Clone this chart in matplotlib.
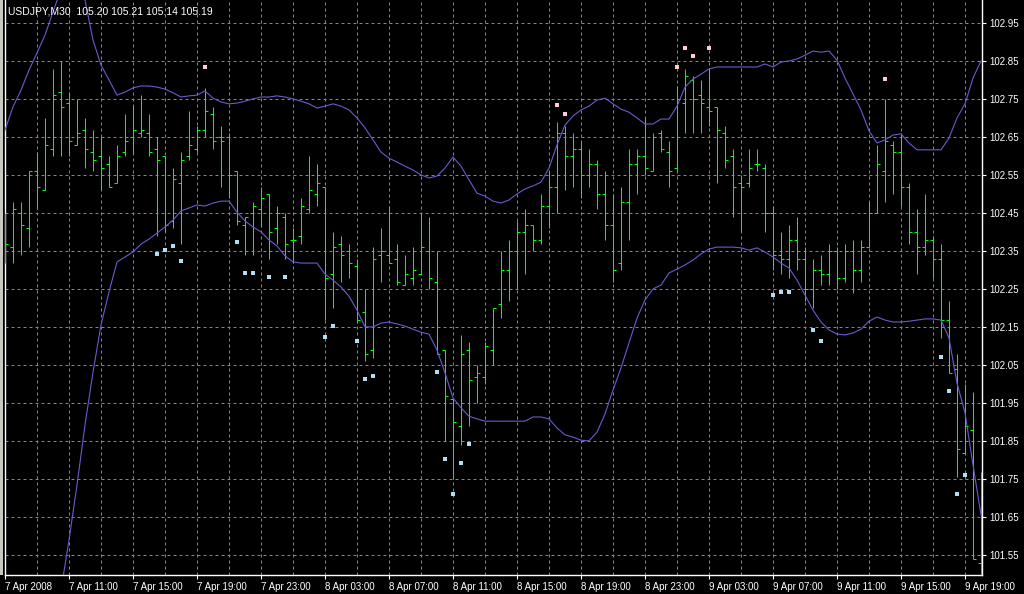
import matplotlib
matplotlib.use('Agg')
import matplotlib.pyplot as plt
from matplotlib.patches import Rectangle

# USDJPY M30, 123 bars (7 Apr 07:00 .. 9 Apr 19:00)
opens = [102.40, 102.36, 102.45, 102.41, 102.56, 102.51, 102.62, 102.77, 102.74, 102.63,
         102.67, 102.61, 102.60, 102.58, 102.53, 102.61, 102.65, 102.66, 102.66, 102.62,
         102.60, 102.43, 102.53, 102.60, 102.62, 102.67, 102.71, 102.65, 102.65, 102.56,
         102.42, 102.45, 102.46, 102.50, 102.41, 102.44, 102.38, 102.39, 102.46, 102.50,
         102.52, 102.29, 102.37, 102.35, 102.31, 102.19, 102.09, 102.34, 102.34, 102.33,
         102.26, 102.28, 102.29, 102.35, 102.27, 102.09, 101.96, 101.89, 102.09, 102.02,
         102.02, 102.09, 102.21, 102.30, 102.35, 102.40, 102.42, 102.38, 102.47, 102.52,
         102.66, 102.60, 102.62, 102.55, 102.58, 102.50, 102.42, 102.32, 102.48, 102.58,
         102.60, 102.56, 102.66, 102.61, 102.57, 102.74, 102.80, 102.76, 102.73, 102.73,
         102.66, 102.60, 102.53, 102.53, 102.58, 102.57, 102.45, 102.34, 102.33, 102.38,
         102.33, 102.25, 102.30, 102.29, 102.35, 102.28, 102.35, 102.30, 102.36, 102.45,
         102.56, 102.63, 102.61, 102.52, 102.40, 102.36, 102.38, 102.33, 102.17, 102.04,
         101.82, 101.88, 101.53]
highs = [102.45, 102.48, 102.48, 102.56, 102.61, 102.70, 102.83, 102.85, 102.77, 102.75,
         102.70, 102.67, 102.65, 102.60, 102.63, 102.71, 102.735, 102.76, 102.71, 102.65,
         102.60, 102.57, 102.61, 102.72, 102.68, 102.78, 102.73, 102.68, 102.66, 102.56,
         102.44, 102.48, 102.52, 102.50, 102.47, 102.45, 102.41, 102.49, 102.60, 102.58,
         102.52, 102.40, 102.39, 102.37, 102.33, 102.25, 102.36, 102.41, 102.47, 102.37,
         102.34, 102.36, 102.45, 102.44, 102.35, 102.09, 101.96, 102.13, 102.11, 102.05,
         102.11, 102.20, 102.35, 102.38, 102.43, 102.46, 102.42, 102.50, 102.56, 102.69,
         102.68, 102.66, 102.64, 102.62, 102.59, 102.56, 102.50, 102.52, 102.62, 102.62,
         102.70, 102.66, 102.67, 102.64, 102.785, 102.83, 102.81, 102.80, 102.83, 102.73,
         102.68, 102.62, 102.55, 102.62, 102.62, 102.58, 102.47, 102.40, 102.42, 102.44,
         102.36, 102.33, 102.34, 102.37, 102.36, 102.37, 102.38, 102.38, 102.48, 102.63,
         102.75, 102.64, 102.66, 102.53, 102.46, 102.50, 102.39, 102.37, 102.22, 102.08,
         102.00, 101.98, 101.77]
lows = [102.32, 102.32, 102.34, 102.36, 102.46, 102.51, 102.60, 102.60, 102.60, 102.63,
        102.57, 102.56, 102.51, 102.52, 102.53, 102.60, 102.605, 102.65, 102.60, 102.39,
        102.40, 102.41, 102.37, 102.59, 102.61, 102.65, 102.62, 102.52, 102.49, 102.42,
        102.34, 102.34, 102.415, 102.33, 102.37, 102.33, 102.32, 102.37, 102.45, 102.47,
        102.17, 102.20, 102.27, 102.28, 102.16, 102.06, 102.07, 102.27, 102.32, 102.26,
        102.26, 102.26, 102.29, 102.25, 102.08, 101.85, 101.75, 101.84, 101.89, 101.95,
        102.00, 102.05, 102.175, 102.22, 102.25, 102.29, 102.35, 102.37, 102.41, 102.45,
        102.51, 102.52, 102.49, 102.52, 102.46, 102.38, 102.27, 102.30, 102.38, 102.50,
        102.55, 102.56, 102.61, 102.52, 102.56, 102.66, 102.66, 102.66, 102.68, 102.53,
        102.57, 102.44, 102.40, 102.52, 102.56, 102.40, 102.30, 102.29, 102.28, 102.30,
        102.22, 102.20, 102.26, 102.26, 102.25, 102.27, 102.24, 102.27, 102.36, 102.45,
        102.48, 102.50, 102.47, 102.37, 102.29, 102.34, 102.28, 102.121, 102.029, 101.757,
        101.817, 101.54, 101.50]
closes = [102.37, 102.46, 102.42, 102.56, 102.52, 102.63, 102.76, 102.73, 102.64, 102.66,
          102.62, 102.59, 102.57, 102.52, 102.60, 102.64, 102.67, 102.67, 102.61, 102.59,
          102.42, 102.54, 102.59, 102.63, 102.67, 102.72, 102.64, 102.64, 102.55, 102.43,
          102.44, 102.47, 102.49, 102.40, 102.45, 102.37, 102.38, 102.47, 102.51, 102.53,
          102.28, 102.36, 102.34, 102.32, 102.17, 102.08, 102.33, 102.35, 102.32, 102.27,
          102.29, 102.30, 102.36, 102.28, 102.08, 101.97, 101.90, 102.08, 102.01, 102.03,
          102.10, 102.20, 102.30, 102.35, 102.40, 102.42, 102.38, 102.47, 102.52, 102.66,
          102.60, 102.62, 102.55, 102.58, 102.50, 102.42, 102.30, 102.48, 102.58, 102.60,
          102.57, 102.65, 102.62, 102.56, 102.75, 102.81, 102.75, 102.74, 102.72, 102.67,
          102.59, 102.52, 102.52, 102.57, 102.58, 102.45, 102.34, 102.33, 102.38, 102.33,
          102.25, 102.30, 102.29, 102.35, 102.28, 102.35, 102.30, 102.36, 102.45, 102.58,
          102.64, 102.61, 102.52, 102.40, 102.36, 102.38, 102.33, 102.17, 102.029, 101.83,
          101.89, 101.54, 101.52]

upper_band = [102.669, 102.730, 102.774, 102.827, 102.872, 102.919, 102.980, 103.04, 103.06, 103.05,
              103.011, 102.906, 102.840, 102.801, 102.761, 102.769, 102.780, 102.785, 102.785, 102.782,
              102.777, 102.767, 102.756, 102.759, 102.761, 102.772, 102.753, 102.743, 102.738, 102.740,
              102.745, 102.751, 102.756, 102.756, 102.759, 102.756, 102.751, 102.745, 102.738, 102.727,
              102.732, 102.738, 102.732, 102.722, 102.701, 102.675, 102.643, 102.611, 102.595, 102.585,
              102.574, 102.564, 102.551, 102.543, 102.548, 102.569, 102.598, 102.574, 102.538, 102.503,
              102.495, 102.482, 102.477, 102.485, 102.501, 102.514, 102.522, 102.532, 102.569, 102.630,
              102.682, 102.706, 102.722, 102.732, 102.748, 102.753, 102.738, 102.724, 102.716, 102.701,
              102.685, 102.685, 102.698, 102.698, 102.732, 102.782, 102.803, 102.816, 102.830, 102.835,
              102.835, 102.835, 102.835, 102.835, 102.835, 102.843, 102.835, 102.848, 102.851, 102.856,
              102.866, 102.877, 102.874, 102.877, 102.853, 102.806, 102.764, 102.722, 102.667, 102.635,
              102.643, 102.656, 102.659, 102.635, 102.617, 102.617, 102.617, 102.617, 102.648, 102.701,
              102.738, 102.806, 102.851]
lower_band = [101.33, 101.31, 101.30, 101.30, 101.32, 101.35, 101.40, 101.459, 101.590, 101.735,
              101.893, 102.032, 102.156, 102.243, 102.322, 102.335, 102.348, 102.369, 102.382, 102.398,
              102.414, 102.432, 102.456, 102.464, 102.472, 102.469, 102.477, 102.482, 102.482, 102.453,
              102.430, 102.414, 102.401, 102.380, 102.364, 102.338, 102.322, 102.319, 102.319, 102.319,
              102.290, 102.274, 102.256, 102.232, 102.195, 102.151, 102.151, 102.161, 102.164, 102.159,
              102.153, 102.145, 102.137, 102.132, 102.090, 102.030, 101.964, 101.938, 101.916, 101.909,
              101.903, 101.903, 101.903, 101.903, 101.903, 101.903, 101.914, 101.914, 101.909, 101.885,
              101.867, 101.861, 101.853, 101.851, 101.874, 101.922, 101.985, 102.043, 102.109, 102.174,
              102.222, 102.251, 102.261, 102.293, 102.303, 102.314, 102.327, 102.343, 102.356, 102.361,
              102.361, 102.361, 102.359, 102.353, 102.359, 102.348, 102.335, 102.319, 102.306, 102.274,
              102.235, 102.195, 102.164, 102.143, 102.132, 102.130, 102.135, 102.145, 102.166, 102.177,
              102.169, 102.164, 102.164, 102.166, 102.169, 102.172, 102.172, 102.169, 102.122, 102.003,
              101.925, 101.788, 101.656]

# signal dots: bar index and price
pink_idx = [25, 69, 70, 84, 85, 86, 88, 110]
pink_val = [102.835, 102.735, 102.711, 102.834, 102.884, 102.863, 102.884, 102.803]
blue_idx = [19, 20, 21, 22, 29, 30, 31, 33, 35, 40, 41, 44, 45, 46, 54, 55, 56, 57, 58,
            96, 97, 98, 101, 102, 117, 118, 119, 120]
blue_val = [102.343, 102.353, 102.364, 102.324, 102.374, 102.293, 102.293, 102.282, 102.282,
            102.124, 102.153, 102.113, 102.013, 102.021, 102.032, 101.803, 101.711, 101.792,
            101.842, 102.235, 102.243, 102.243, 102.143, 102.114, 102.071, 101.982, 101.711,
            101.761]

time_ticks = [0, 8, 16, 24, 32, 40, 48, 56, 64, 72, 80, 88, 96, 104, 112, 120]
time_labels = ['7 Apr 2008', '7 Apr 11:00', '7 Apr 15:00', '7 Apr 19:00', '7 Apr 23:00',
               '8 Apr 03:00', '8 Apr 07:00', '8 Apr 11:00', '8 Apr 15:00', '8 Apr 19:00',
               '8 Apr 23:00', '9 Apr 03:00', '9 Apr 07:00', '9 Apr 11:00', '9 Apr 15:00',
               '9 Apr 19:00']
price_ticks = [101.55, 101.65, 101.75, 101.85, 101.95, 102.05, 102.15, 102.25, 102.35,
               102.45, 102.55, 102.65, 102.75, 102.85, 102.95]

plt.rcParams['font.family'] = ['Liberation Sans', 'DejaVu Sans']

W, H = 1024, 594
fig = plt.figure(figsize=(W / 100, H / 100), dpi=100, facecolor='black')
ax = fig.add_axes([5 / W, 19 / H, 977 / W, 575 / H], facecolor='black')

n = len(opens)
idx = list(range(n))

# grid
for p in price_ticks:
    ax.axhline(p, color='#778899', lw=0.72, ls=(0, (3, 3)), zorder=1)
for i in range(4, n, 4):
    ax.axvline(i, color='#778899', lw=0.72, ls=(0, (3, 3)), zorder=1)

# OHLC bars
bar_col = '#00ff00'
ax.vlines(idx, lows, highs, color=bar_col, lw=0.75, zorder=3)
ax.hlines(opens, [i - 0.32 for i in idx], idx, color=bar_col, lw=0.75, zorder=3)
ax.hlines(closes, idx, [i + 0.32 for i in idx], color=bar_col, lw=0.75, zorder=3)

# bands
ax.plot(idx, upper_band, color='#6a5acd', lw=0.8, zorder=4)
ax.plot(idx, lower_band, color='#6a5acd', lw=0.8, zorder=4)

# dots
ax.plot(pink_idx, pink_val, 's', color='#ffc8d2', ms=2.4, mew=0, zorder=5)
ax.plot(blue_idx, blue_val, 's', color='#b4dcf0', ms=2.4, mew=0, zorder=5)

ax.set_xlim(0, 977 / 8)
ax.set_ylim(103.0113 - 575 / 380, 103.0113)

# axes styling
for s in ['left', 'bottom', 'right']:
    ax.spines[s].set_color('white')
    ax.spines[s].set_linewidth(1.0)
ax.spines['top'].set_visible(False)

ax.yaxis.tick_right()
ax.set_yticks(price_ticks)
ax.set_yticklabels([f'{p:.2f}' for p in price_ticks])
ax.tick_params(axis='y', colors='white', labelcolor='white', labelsize=7, length=3, width=0.8, pad=2)

ax.set_xticks(time_ticks)
ax.set_xticklabels(time_labels, ha='left')
ax.tick_params(axis='x', colors='white', labelcolor='white', labelsize=7, length=3, width=0.8, pad=2)
for lab in ax.get_xticklabels():
    lab.set_horizontalalignment('left')

# window frame at left
fig.patches.append(Rectangle((0, 19 / H), 2.5 / W, 1 - 19 / H, transform=fig.transFigure,
                             facecolor='#c8c8c0', edgecolor='none'))

fig.text(8 / W, 1 - 11 / H, 'USDJPY,M30  105.20 105.21 105.14 105.19', color='white',
         fontsize=7.5, va='center', ha='left')

fig.savefig('out.png', dpi=100, facecolor='black')
